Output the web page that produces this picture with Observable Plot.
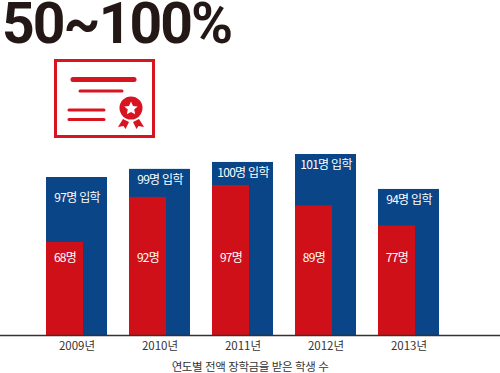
<!DOCTYPE html>
<html lang="ko">
<head>
<meta charset="utf-8">
<script src="https://cdn.jsdelivr.net/npm/d3@7"></script>
<script src="https://cdn.jsdelivr.net/npm/@observablehq/plot@0.6"></script>
<style>
html,body{margin:0;padding:0;background:#fff;}
#page{position:relative;width:500px;height:373px;overflow:hidden;}
#title{position:absolute;left:2px;top:1px;font:700 57px/46px Roboto,sans-serif;letter-spacing:-1.9px;color:#231815;white-space:nowrap;}
#icon{position:absolute;left:0;top:0;}
#chart{position:absolute;left:0;top:145px;}
#chart g[aria-label="text"] text{letter-spacing:-0.7px;}
#caption{position:absolute;left:0;width:500px;top:359px;text-align:center;font:400 11.5px/14px "Noto Sans CJK KR",sans-serif;letter-spacing:-0.4px;color:#333;}
svg{display:block;}
</style>
</head>
<body>
<div id="page">
<div id="title">50~100%</div>
<svg id="icon" width="250" height="145" fill="none">
  <rect x="55.5" y="60.5" width="98" height="76" stroke="#d7141f" stroke-width="3"/>
  <g stroke="#d7141f" stroke-linecap="round">
    <path d="M73 79.5H134" stroke-width="5"/>
    <path d="M80 91H122" stroke-width="3"/>
    <path d="M69 110H104" stroke-width="3"/>
    <path d="M69 119.5H104" stroke-width="3"/>
  </g>
  <circle cx="131" cy="108" r="11.5" fill="#d7141f"/>
  <path fill="#fff" d="M131 101.500l2 4.400 4.700.5-3.500 3.200 1 4.700-4.200-2.400-4.200 2.400 1-4.700-3.500-3.200 4.700-.5z"/>
  <path fill="#d7141f" d="M123 119l6 3-3.500 7-2-3-5.500 1zM139 119l-6 3 3.500 7 2-3 5.500 1z"/>
</svg>
<div id="chart"></div>
<div id="caption">연도별 전액 장학금을 받은 학생 수</div>
</div>
<script>
const years = ["2009년", "2010년", "2011년", "2012년", "2013년"];
// Numbers printed on the chart
const admitted = [97, 99, 100, 101, 94];
const scholars = [68, 92, 97, 89, 77];
// Drawn bar lengths as seen in the picture (the bars are not to scale with their labels);
// relative units where the 2011 blue bar is 100
const admittedDrawn = [91.3, 96, 100, 104.6, 84.4];
const scholarsDrawn = [53.8, 79.8, 86.7, 74.9, 63.3];

const rows = years.map((year, i) => ({
  year,
  admittedDrawn: admittedDrawn[i],
  scholarsDrawn: scholarsDrawn[i],
  admittedLabel: `${admitted[i]}명 입학`,
  scholarsLabel: `${scholars[i]}명`
}));
const labelFont = {fontFamily: '"Noto Sans CJK KR",sans-serif', fontSize: 12, fill: "#fff"};

const chart = Plot.plot({
  width: 500,
  height: 210,
  marginLeft: 0,
  marginRight: 0,
  marginTop: 0,
  marginBottom: 20,
  style: {background: "transparent"},
  x: {domain: years, range: [46, 439], round: false, paddingInner: 0.265, paddingOuter: 0, align: 0, label: null},
  y: {domain: [0, 109.8], axis: null},
  marks: [
    Plot.axisX({tickSize: 0, tickPadding: 6, label: null, fontFamily: '"Noto Sans CJK KR",sans-serif', fontSize: 11.5, fill: "#333"}),
    Plot.barY(rows, {x: "year", y: "admittedDrawn", fill: "#0a4587"}),
    Plot.barY(rows, {x: "year", y: "scholarsDrawn", fill: "#d01018", insetRight: 24}),
    Plot.text(rows.slice(0, 1), {x: "year", y: "admittedDrawn", text: "admittedLabel", dy: 21, ...labelFont}),
    Plot.text(rows.slice(1), {x: "year", y: "admittedDrawn", text: "admittedLabel", dy: 11, ...labelFont}),
    Plot.text(rows, {x: "year", text: "scholarsLabel", frameAnchor: "bottom", lineAnchor: "middle", dy: -77, dx: -12, ...labelFont}),
    Plot.ruleY([0], {stroke: "#3a2f2c", strokeWidth: 1.5})
  ]
});
document.getElementById("chart").appendChild(chart);
</script>
</body>
</html>
